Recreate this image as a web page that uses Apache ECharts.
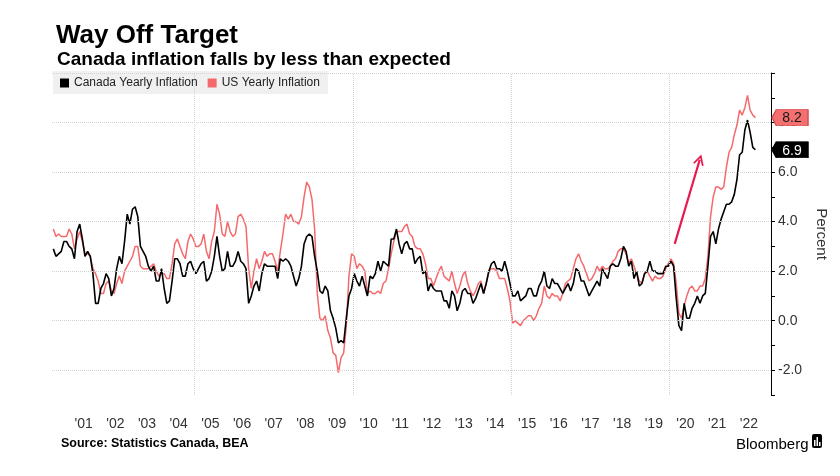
<!DOCTYPE html>
<html><head><meta charset="utf-8">
<script src="https://cdn.jsdelivr.net/npm/echarts@6/dist/echarts.min.js"></script>
<style>html,body{margin:0;padding:0;background:#fff}#c{width:840px;height:476px}</style>
</head><body><div id="c"></div>
<script>
// Monthly year-over-year inflation, Jul 2000 .. Sep 2022
const START_YEAR = 2000, START_MONTH = 7;
const canada = [
  2.9,2.6,2.7,2.8,3.2,3.2,
  3.0,2.9,2.5,3.6,3.9,3.3,2.6,2.8,2.6,1.9,0.7,0.7,
  1.3,1.5,1.9,1.7,1.0,1.3,2.1,2.6,2.3,3.2,4.3,3.9,
  4.5,4.6,4.2,3.0,2.8,2.6,2.2,2.0,2.2,1.6,1.6,2.1,
  1.3,0.7,0.8,1.6,2.5,2.5,2.3,1.8,1.8,2.3,2.4,2.1,
  1.9,2.1,2.3,2.4,1.6,1.7,2.0,2.6,3.4,2.6,2.0,2.1,
  2.8,2.2,2.2,2.4,2.8,2.4,2.3,2.1,0.7,1.0,1.4,1.6,
  1.2,1.9,2.3,2.2,2.2,2.2,2.2,1.7,2.5,2.4,2.5,2.4,
  2.2,1.8,1.4,1.7,2.2,3.1,3.4,3.5,3.4,2.6,2.0,1.2,
  1.1,1.4,1.2,0.4,0.1,-0.3,-0.9,-0.8,-0.9,0.1,1.0,1.3,
  1.9,1.6,1.4,1.8,1.4,1.0,1.8,1.7,1.9,2.4,2.0,2.4,
  2.3,2.2,3.3,3.3,3.7,3.1,2.7,3.1,3.2,2.9,2.9,2.3,
  2.5,2.6,1.9,2.0,1.2,1.5,1.3,1.2,1.2,1.2,0.8,0.8,
  0.5,1.2,1.0,0.4,0.7,1.2,1.3,1.1,1.1,0.7,0.9,1.2,
  1.5,1.1,1.5,2.0,2.3,2.4,2.1,2.1,2.0,2.4,2.0,1.5,
  1.0,1.0,1.2,0.8,0.9,1.0,1.3,1.3,1.0,1.0,1.4,1.6,
  2.0,1.4,1.3,1.7,1.5,1.5,1.3,1.1,1.3,1.5,1.2,1.5,
  2.1,2.0,1.6,1.6,1.3,1.0,1.2,1.4,1.6,1.4,2.1,1.9,
  1.7,2.2,2.3,2.2,2.2,2.5,3.0,2.8,2.2,2.4,1.7,2.0,
  1.4,1.5,1.9,2.0,2.4,2.0,2.0,1.9,1.9,1.9,2.2,2.2,
  2.4,2.2,0.9,-0.2,-0.4,0.7,0.1,0.1,0.5,0.7,1.0,0.7,
  1.0,1.1,2.2,3.4,3.6,3.1,3.7,4.1,4.4,4.7,4.7,4.8,
  5.1,5.7,6.7,6.8,7.7,8.1,7.6,7.0,6.9
];
const us = [
  3.7,3.4,3.5,3.4,3.4,3.4,
  3.7,3.5,2.9,3.3,3.6,3.2,2.7,2.7,2.6,2.1,1.9,1.6,
  1.1,1.1,1.5,1.6,1.2,1.1,1.5,1.8,1.5,2.0,2.2,2.4,
  2.6,3.0,3.0,2.2,2.1,2.1,2.1,2.2,2.3,2.0,1.8,1.9,
  1.9,1.7,1.7,2.3,3.1,3.3,3.0,2.7,2.5,3.2,3.5,3.3,
  3.0,3.0,3.1,3.5,2.8,2.5,3.2,3.6,4.7,4.3,3.5,3.4,
  4.0,3.6,3.4,3.5,4.2,4.3,4.1,3.8,2.1,1.3,2.0,2.5,
  2.1,2.4,2.8,2.6,2.7,2.7,2.4,2.0,2.8,3.5,4.3,4.1,
  4.3,4.0,4.0,3.9,4.2,5.0,5.6,5.4,4.9,3.7,1.1,0.1,
  0.0,0.2,-0.4,-0.7,-1.3,-1.4,-2.1,-1.5,-1.3,-0.2,1.8,2.7,
  2.6,2.1,2.3,2.2,2.0,1.1,1.2,1.1,1.1,1.2,1.1,1.5,
  1.6,2.1,2.7,3.2,3.6,3.6,3.6,3.8,3.9,3.5,3.4,3.0,
  2.9,2.9,2.7,2.3,1.7,1.7,1.4,1.7,2.0,2.2,1.8,1.7,
  1.6,2.0,1.5,1.1,1.4,1.8,2.0,1.5,1.2,1.0,1.2,1.5,
  1.6,1.1,1.5,2.0,2.1,2.1,2.0,1.7,1.7,1.7,1.3,0.8,
  -0.1,0.0,-0.1,-0.2,0.0,0.1,0.2,0.2,0.0,0.2,0.5,0.7,
  1.4,1.0,0.9,1.1,1.0,1.0,0.8,1.1,1.5,1.6,1.7,2.1,
  2.5,2.7,2.4,2.2,1.9,1.6,1.7,1.9,2.2,2.0,2.2,2.1,
  2.1,2.2,2.4,2.5,2.8,2.9,2.9,2.7,2.3,2.5,2.2,1.9,
  1.6,1.5,1.9,2.0,1.8,1.6,1.8,1.7,1.7,1.8,2.1,2.3,
  2.5,2.3,1.5,0.3,0.1,0.6,1.0,1.3,1.4,1.2,1.2,1.4,
  1.4,1.7,2.6,4.2,5.0,5.4,5.4,5.3,5.4,6.2,6.8,7.0,
  7.5,7.9,8.5,8.3,8.6,9.1,8.5,8.3,8.2
];
const yearLabels = ["'01","'02","'03","'04","'05","'06","'07","'08","'09","'10","'11",
  "'12","'13","'14","'15","'16","'17","'18","'19","'20","'21","'22"];
const FIRST_LABEL_YEAR = 2001;
const yLabelValues = [-2, 0, 2, 4, 6, 8];
const hGridValues = [-2, 0, 2, 4, 6, 8, 10];
const vGridYears = [2005, 2010, 2015, 2020];
const arrowFrom = [2020.16, 3.1];
const arrowTo = [2020.95, 6.5];
const X_MIN = 2000.5, X_MAX = 2023.2, Y_MIN = -3, Y_MAX = 10;

const RED = '#f46a6c', BLACK = '#000000';
const FONT = 'Liberation Sans';
const toPairs = arr => arr.map((v, i) => [START_YEAR + (START_MONTH - 1 + i + 0.5) / 12, v]);
const TAG = 'path://M0,50 L24,0 L200,0 L200,100 L24,100 Z';

function badge(val, fill, txt, border) {
  return {
    silent: true,
    symbol: TAG, symbolSize: [36, 16], symbolKeepAspect: false, symbolOffset: [19, 0],
    itemStyle: { color: fill, borderColor: border, borderWidth: 1 },
    label: { show: true, position: 'inside', offset: [2, 1], color: txt, fontSize: 14, fontFamily: FONT,
             formatter: () => val.toFixed(1) },
    data: [{ coord: [X_MAX, val] }]
  };
}

const chart = echarts.init(document.getElementById('c'), null, { renderer: 'canvas' });
chart.setOption({
  animation: false,
  backgroundColor: '#fff',
  textStyle: { fontFamily: FONT },
  title: [
    { text: 'Way Off Target', left: 51, top: 18, textStyle: { fontSize: 26, fontWeight: 'bold', color: '#000', fontFamily: FONT } },
    { text: 'Canada inflation falls by less than expected', left: 52, top: 45, textStyle: { fontSize: 19, fontWeight: 'bold', color: '#000', fontFamily: FONT } },
    { text: 'Source: Statistics Canada, BEA', left: 56, top: 432, textStyle: { fontSize: 12.5, fontWeight: 'bold', color: '#000', fontFamily: FONT } },
    { text: 'Bloomberg', left: 731, top: 432, textStyle: { fontSize: 15, fontWeight: 'normal', color: '#000', fontFamily: FONT } }
  ],
  graphic: [
    { type: 'rect', left: 812, top: 434, shape: { width: 10, height: 14, r: 2 }, style: { fill: '#000' } },
    { type: 'rect', left: 814, top: 440, shape: { width: 1.5, height: 6 }, style: { fill: '#fff' } },
    { type: 'rect', left: 816.5, top: 437, shape: { width: 1.5, height: 9 }, style: { fill: '#fff' } },
    { type: 'rect', left: 819, top: 442, shape: { width: 1.5, height: 4 }, style: { fill: '#fff' } }
  ],
  legend: {
    left: 53, top: 71, padding: [6, 8, 5, 7], itemGap: 10, itemWidth: 9, itemHeight: 9,
    backgroundColor: '#f0f0f0', icon: 'rect',
    textStyle: { fontSize: 12, color: '#222', fontFamily: FONT },
    data: ['Canada Yearly Inflation', 'US Yearly Inflation']
  },
  grid: { left: 52, right: 69, top: 73, bottom: 81, containLabel: false },
  xAxis: {
    type: 'value', min: X_MIN, max: X_MAX, interval: 0.5,
    axisLine: { show: false }, axisTick: { show: false }, splitLine: { show: false },
    axisLabel: {
      margin: 22, fontSize: 14, color: '#333', fontFamily: FONT, showMinLabel: true, showMaxLabel: true,
      formatter: v => {
        const y = Math.floor(v + 1e-6);
        if (Math.abs(v - y - 0.5) > 1e-6) return '';
        const idx = y - FIRST_LABEL_YEAR;
        return (idx >= 0 && idx < yearLabels.length) ? yearLabels[idx] : '';
      }
    }
  },
  yAxis: {
    type: 'value', position: 'right', min: Y_MIN, max: Y_MAX, interval: 1,
    name: 'Percent', nameLocation: 'middle', nameRotate: -90, nameGap: 43,
    nameTextStyle: { fontSize: 15, color: '#333', fontFamily: FONT },
    axisLine: { show: true, lineStyle: { color: '#000', width: 1 } },
    axisTick: { show: true, length: 4, lineStyle: { color: '#000' } },
    splitLine: { show: false },
    axisLabel: {
      margin: 7, fontSize: 14, color: '#333', fontFamily: FONT,
      formatter: v => yLabelValues.indexOf(Math.round(v)) >= 0 && Math.abs(v - Math.round(v)) < 1e-6 ? v.toFixed(1) : ''
    }
  },
  series: [
    {
      name: 'grid', type: 'line', data: [], z: 1, silent: true,
      markLine: {
        silent: true, symbol: ['none', 'none'], label: { show: false },
        lineStyle: { type: 'dotted', color: '#d2d2d2', width: 1 },
        data: hGridValues.map(v => ({ yAxis: v })).concat(vGridYears.map(v => ({ xAxis: v })))
      }
    },
    {
      name: 'US Yearly Inflation', type: 'line', data: toPairs(us), showSymbol: false, symbol: 'none', z: 3,
      lineStyle: { color: RED, width: 1.5 }, itemStyle: { color: RED },
      markLine: {
        silent: true, symbol: ['none', 'path://M0,14 L7,0 L14,14 L12,15 L7,5 L2,15 Z'], symbolSize: [11, 11],
        label: { show: false }, lineStyle: { type: 'solid', color: '#e8194d', width: 2.2 },
        data: [[{ coord: arrowFrom }, { coord: arrowTo }]]
      },
      markPoint: badge(us[us.length - 1], '#f46f70', '#1a1a1a', '#d85050')
    },
    {
      name: 'Canada Yearly Inflation', type: 'line', data: toPairs(canada), showSymbol: false, symbol: 'none', z: 4,
      lineStyle: { color: BLACK, width: 1.6 }, itemStyle: { color: BLACK },
      markPoint: badge(canada[canada.length - 1], '#000', '#fff', '#000')
    }
  ]
});
</script></body></html>
